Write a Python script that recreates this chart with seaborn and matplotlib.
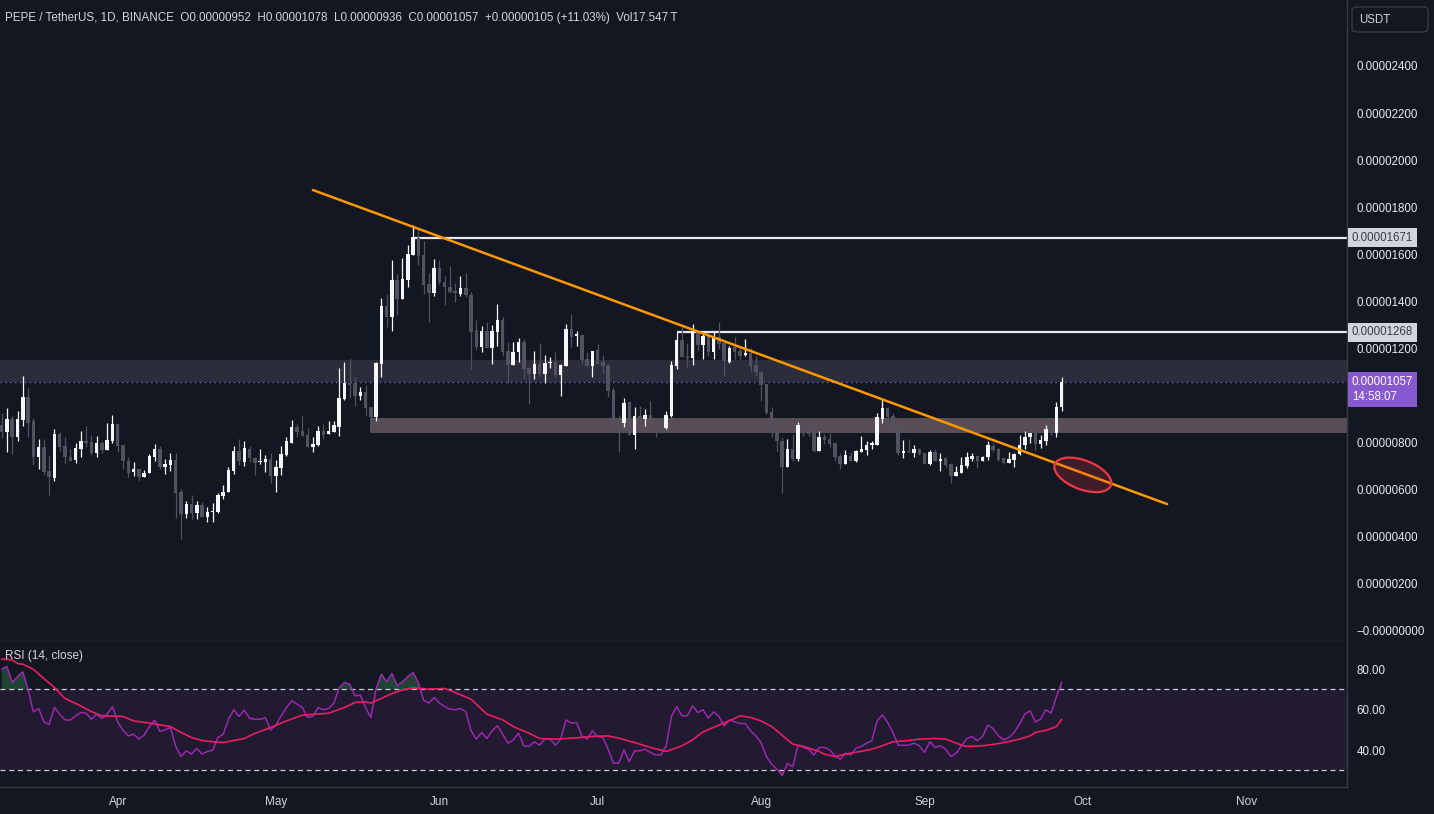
import numpy as np
import pandas as pd
import matplotlib
matplotlib.use("Agg")
import matplotlib.pyplot as plt
import seaborn as sns
from matplotlib.patches import Ellipse, FancyBboxPatch, Rectangle
from matplotlib.ticker import FuncFormatter
from matplotlib.transforms import ScaledTranslation, blended_transform_factory

# --- data: PEPE/USDT daily candles, prices in units of 1e-8 USDT ---
start_date = "2024-03-10"
opens = [875, 847, 901, 822, 897, 993, 890, 737, 780, 680, 649, 837, 786, 738, 727, 773, 807, 802, 758, 800,
         769, 807, 880, 790, 722, 677, 688, 652, 670, 741, 773, 698, 705, 727, 591, 497, 540, 503, 536, 486,
         506, 504, 574, 592, 681, 765, 719, 773, 736, 718, 718, 730, 659, 693, 747, 800, 865, 849, 832, 783,
         790, 849, 835, 846, 868, 985, 1055, 1052, 999, 1013, 953, 910, 1134, 1380, 1335, 1491, 1410, 1491, 1597, 1668,
         1597, 1474, 1437, 1543, 1484, 1462, 1445, 1431, 1455, 1427, 1279, 1208, 1274, 1203, 1271, 1321, 1189, 1130, 1184, 1229,
         1119, 1092, 1134, 1092, 1138, 1144, 1087, 1127, 1283, 1252, 1257, 1154, 1127, 1194, 1144, 1130, 1024, 892, 885, 971,
         833, 913, 900, 917, 889, 868, 861, 913, 1127, 1236, 1170, 1161, 1268, 1215, 1251, 1187, 1248, 1222, 1142, 1208,
         1190, 1174, 1180, 1130, 1102, 1050, 932, 858, 808, 698, 774, 731, 875, 850, 840, 766, 822, 816, 798, 744,
         710, 745, 724, 762, 769, 788, 791, 901, 949, 914, 850, 758, 766, 758, 773, 755, 708, 762, 724, 734,
         710, 660, 673, 701, 730, 744, 720, 738, 786, 773, 734, 715, 727, 751, 790, 822, 843, 795, 809, 858,
         840, 952]
highs = [925, 946, 914, 935, 1084, 1031, 904, 814, 814, 748, 857, 844, 822, 773, 797, 850, 871, 833, 829, 805,
         885, 918, 882, 790, 738, 717, 688, 684, 751, 795, 786, 730, 755, 755, 603, 552, 578, 552, 547, 528,
         543, 588, 620, 696, 786, 816, 807, 785, 740, 773, 747, 754, 726, 785, 825, 896, 879, 917, 861, 822,
         870, 879, 892, 892, 1115, 1141, 1158, 1077, 1038, 1045, 953, 1141, 1413, 1431, 1576, 1516, 1583, 1639, 1724, 1703,
         1656, 1519, 1580, 1576, 1509, 1552, 1476, 1509, 1522, 1440, 1321, 1296, 1311, 1300, 1389, 1332, 1229, 1229, 1246, 1240,
         1123, 1189, 1225, 1172, 1165, 1187, 1134, 1304, 1347, 1274, 1262, 1187, 1189, 1219, 1172, 1134, 1035, 918, 991, 971,
         953, 956, 943, 977, 896, 892, 934, 1147, 1269, 1293, 1225, 1305, 1276, 1275, 1265, 1275, 1312, 1222, 1211, 1248,
         1204, 1241, 1204, 1166, 1106, 1050, 951, 875, 826, 816, 837, 887, 897, 868, 875, 850, 837, 843, 800, 755,
         769, 759, 769, 829, 808, 808, 925, 986, 953, 928, 868, 812, 816, 790, 779, 758, 769, 773, 755, 741,
         713, 701, 738, 762, 755, 744, 744, 807, 797, 776, 737, 762, 755, 833, 850, 843, 851, 833, 875, 878,
         972, 1078]
lows = [819, 762, 751, 809, 871, 822, 703, 687, 663, 578, 639, 766, 708, 724, 715, 741, 783, 748, 737, 758,
        769, 800, 762, 688, 656, 659, 635, 652, 670, 720, 688, 666, 681, 482, 391, 482, 475, 475, 486, 461,
        461, 500, 560, 592, 666, 703, 701, 719, 662, 709, 676, 630, 591, 662, 743, 800, 822, 828, 783, 761,
        785, 815, 835, 844, 829, 981, 991, 957, 981, 914, 889, 893, 1080, 1290, 1275, 1342, 1410, 1462, 1597, 1554,
        1431, 1314, 1424, 1474, 1384, 1437, 1399, 1424, 1417, 1113, 1194, 1187, 1203, 1134, 1212, 1170, 1055, 1130, 1144, 1070,
        964, 1070, 1083, 1055, 1116, 1080, 1000, 1127, 1208, 1212, 1134, 1127, 1080, 1134, 1097, 995, 882, 762, 868, 833,
        773, 889, 871, 879, 825, 842, 858, 910, 1111, 1163, 1123, 1128, 1191, 1156, 1170, 1156, 1198, 1081, 1137, 1156,
        1156, 1170, 1102, 1085, 975, 922, 826, 766, 585, 698, 724, 720, 829, 829, 762, 766, 795, 781, 720, 687,
        710, 724, 716, 762, 748, 772, 791, 885, 868, 844, 748, 734, 755, 738, 748, 708, 705, 720, 681, 696,
        628, 660, 670, 691, 724, 694, 720, 727, 762, 724, 708, 713, 698, 748, 772, 800, 769, 776, 788, 833,
        822, 936]
closes = [847, 901, 822, 901, 993, 885, 737, 780, 677, 656, 837, 783, 737, 724, 776, 807, 800, 758, 797, 769,
          812, 880, 786, 720, 673, 688, 652, 673, 744, 773, 698, 710, 727, 588, 497, 540, 503, 536, 486, 507,
          510, 578, 592, 684, 765, 722, 778, 733, 715, 723, 730, 659, 695, 751, 807, 865, 846, 828, 783, 794,
          849, 832, 849, 875, 988, 1052, 1045, 999, 1013, 948, 910, 1137, 1380, 1335, 1491, 1410, 1495, 1601, 1672, 1594,
          1469, 1437, 1543, 1484, 1459, 1441, 1434, 1455, 1427, 1272, 1208, 1274, 1203, 1274, 1321, 1187, 1130, 1187, 1229, 1113,
          1092, 1134, 1092, 1140, 1144, 1087, 1130, 1283, 1250, 1260, 1151, 1127, 1189, 1134, 1127, 1021, 889, 886, 967, 833,
          913, 899, 917, 885, 864, 862, 917, 1130, 1236, 1165, 1161, 1276, 1215, 1251, 1187, 1248, 1218, 1145, 1204, 1187,
          1170, 1180, 1126, 1102, 1045, 928, 854, 805, 698, 774, 731, 875, 847, 837, 766, 822, 812, 795, 741, 710,
          748, 724, 765, 774, 791, 800, 907, 949, 908, 844, 758, 766, 761, 773, 752, 708, 762, 720, 731, 705,
          659, 677, 705, 737, 744, 720, 738, 790, 769, 727, 715, 730, 751, 790, 823, 843, 795, 812, 858, 840,
          953, 1057]

# RSI(14) per candle and its moving average (sampled along the line)
rsi = [80.0, 81.4, 73.5, 76.3, 78.7, 70.2, 59.0, 60.6, 54.0, 52.7, 61.1, 57.8, 55.0, 54.9, 57.0, 58.6, 58.3, 55.3, 57.8, 55.7,
       57.8, 61.6, 54.0, 49.9, 47.1, 47.9, 45.5, 47.4, 51.7, 54.9, 49.3, 50.1, 51.2, 41.9, 36.9, 39.7, 38.1, 40.9, 38.1, 39.4,
       40.0, 46.3, 47.9, 55.3, 60.0, 56.7, 59.8, 55.8, 55.3, 55.3, 56.0, 50.1, 52.4, 57.0, 61.1, 64.4, 62.8, 61.1, 56.2, 56.7,
       61.1, 60.0, 60.6, 63.3, 71.0, 73.5, 72.6, 66.9, 67.2, 61.1, 56.2, 70.5, 77.6, 73.8, 77.9, 71.8, 73.8, 76.4, 78.4, 73.5,
       64.7, 63.3, 66.0, 63.3, 61.6, 60.3, 60.0, 60.6, 59.0, 49.6, 45.5, 48.8, 45.8, 49.6, 52.1, 47.9, 43.5, 45.1, 48.4, 42.2,
       41.9, 44.2,
       42.5, 45.5, 45.5, 42.5, 45.5, 55.0, 53.4, 53.7, 47.1, 45.5, 49.6, 46.8, 46.3, 40.5, 33.6, 33.6, 40.2, 34.4, 39.7, 39.7,
       40.5, 38.9, 37.7, 37.7, 42.2, 56.7, 61.6, 57.0, 57.0, 61.9, 58.6, 60.0, 55.8, 59.0, 56.7, 52.1, 55.0, 54.0, 53.2, 53.2,
       49.6, 47.1, 43.8, 36.9, 33.1, 30.7, 27.4, 33.5, 31.8, 42.5, 41.4, 40.5, 37.6, 41.4, 41.4, 40.2, 37.2, 35.6, 38.6, 37.7,
       41.0, 41.9, 43.5, 44.7, 54.5, 57.5, 53.7, 48.8, 42.5, 42.5, 42.5, 43.5, 42.2, 38.9, 44.2, 41.4, 42.2, 40.5, 36.9, 38.6,
       42.2, 45.8, 46.8, 44.7, 46.8, 52.4, 50.7, 47.1, 45.1, 46.3, 48.8, 52.9, 57.8, 59.5, 54.0, 55.3, 60.0, 58.3, 66.5, 73.8]
ma_idx = [0, 2, 3, 4, 6, 8, 10, 12, 15, 17, 19, 23, 25, 28, 32, 34, 36, 38, 40, 42, 46, 48, 51, 54, 57, 59, 62, 65,
          67, 69, 70, 72, 74, 76, 78, 81, 84, 86, 89, 92, 95, 97, 100, 102, 105, 109, 112, 115, 117, 120, 123, 126,
          129, 131, 133, 136, 139, 140, 142, 144, 146, 148, 150, 152, 155, 156, 158, 160, 163, 165, 167, 169, 172,
          174, 177, 179, 182, 183, 186, 189, 191, 193, 195, 196, 198, 200, 201]
ma_vals = [85.0, 84.6, 82.8, 82.5, 80.0, 75.4, 71.0, 65.6, 61.9, 59.1, 57.0, 56.7, 54.5, 53.4, 51.7, 48.8, 46.3, 44.8,
           44.2, 43.8, 45.8, 48.3, 51.2, 54.5, 57.3, 57.7, 58.3, 61.1, 63.6, 63.9, 63.3, 65.6, 68.0, 69.8, 70.8, 70.2,
           70.5, 68.5, 65.2, 57.8, 55.0, 51.7, 48.4, 45.8, 45.5, 46.1, 46.8, 47.1, 46.0, 43.8, 41.4, 39.4, 42.2, 45.1,
           49.1, 52.4, 55.7, 57.0, 56.2, 54.5, 51.7, 47.4, 43.0, 41.9, 39.4, 38.1, 36.9, 38.1, 39.5, 40.5, 42.2, 44.2,
           44.8, 45.5, 45.8, 45.5, 42.5, 41.9, 42.2, 43.3, 44.3, 45.5, 47.1, 48.8, 49.8, 51.7, 55.3]

# drawings on the chart
trend_dates = ["2024-05-08", "2024-10-17"]
trend_prices = [1873, 539]
levels = [1671, 1268]
level_starts = ["2024-05-27", "2024-07-16"]
upper_zone = (1058, 1151)
lower_zone = (841, 905)
lower_zone_start = "2024-05-19"
circle_date, circle_price = "2024-10-01", 663
months = ["Apr", "May", "Jun", "Jul", "Aug", "Sep", "Oct", "Nov"]
month_starts = ["2024-04-01", "2024-05-01", "2024-06-01", "2024-07-01",
                "2024-08-01", "2024-09-01", "2024-10-01", "2024-11-01"]
price_ticks = [0, 200, 400, 600, 800, 1200, 1400, 1600, 1800, 2000, 2200, 2400]
last_price, countdown = 1057, "14:58:07"
header = ("PEPE / TetherUS, 1D, BINANCE  O0.00000952  H0.00001078  L0.00000936  "
          "C0.00001057  +0.00000105 (+11.03%)  Vol17.547\u2009T")

# --- style ---
BG = "#131722"
TXT = "#d1d4dc"
SEP = "#2a2e39"
UP = "#f5f6f8"
DOWN = "#50535f"
sns.set_theme(style="dark", rc={"axes.facecolor": BG, "figure.facecolor": BG,
                                "axes.edgecolor": SEP, "text.color": TXT,
                                "xtick.color": TXT, "ytick.color": TXT})
plt.rcParams["font.family"] = ["Liberation Sans", "DejaVu Sans"]

start = pd.Timestamp(start_date)


def pos(d):
    return (pd.Timestamp(d) - start).days


W, H = 1434, 814
fig = plt.figure(figsize=(W / 100, H / 100), dpi=100)


def px_rect(x0, y0, x1, y1):
    return [x0 / W, 1 - y1 / H, (x1 - x0) / W, (y1 - y0) / H]


ax = fig.add_axes(px_rect(0, 0, 1347, 641))
ax_r = fig.add_axes(px_rect(0, 641, 1347, 787), sharex=ax)

o, h, l, c = map(np.array, (opens, highs, lows, closes))
x = np.arange(len(c))
col = np.where(c >= o, UP, DOWN)

# zones and levels (behind candles)
xmax = 255.1
ax.axhspan(*upper_zone, color="#2b2d3b", lw=0, zorder=1)
ax.add_patch(Rectangle((pos(lower_zone_start) - 0.2, lower_zone[0]), xmax,
                       lower_zone[1] - lower_zone[0], color="#584d55", lw=0, zorder=1))
ax.axhline(last_price, color="#6f63d6", lw=1, ls=(0, (1, 2.5)), zorder=2)
for lv, st in zip(levels, level_starts):
    ax.hlines(lv, pos(st), xmax, color="#e6e8ee", lw=1.6, zorder=2)

# candles
ax.vlines(x, l, h, colors=col, lw=0.9, zorder=3)
ax.bar(x, np.maximum(np.abs(c - o), 3), bottom=np.minimum(o, c), width=0.66,
       color=col, lw=0, zorder=4)

# trend line + circle
ax.plot([pos(d) for d in trend_dates], trend_prices, color="#ff9800", lw=1.8, zorder=5)
etr = fig.dpi_scale_trans + ScaledTranslation(pos(circle_date), circle_price, ax.transData)
ax.add_patch(Ellipse((0, 0), 0.60, 0.29, angle=-21, transform=etr,
                     facecolor=(0.95, 0.21, 0.27, 0.2), edgecolor="#f23645", lw=1.6, zorder=6))

ax.set_xlim(-0.32, xmax)
ax.set_ylim(-42.5, 2680)
ax.yaxis.tick_right()
ax.set_yticks(price_ticks)
ax.yaxis.set_major_formatter(FuncFormatter(
    lambda v, p: ("\u2212" if v <= 0 else "") + f"{abs(v) * 1e-8:.8f}"))
ax.tick_params(axis="y", length=0, pad=7, labelsize=8.3, labelcolor="#e8eaef")
ax.tick_params(axis="x", length=0, labelbottom=False)
ax.grid(False)

# price labels on the scale
bt = blended_transform_factory(ax.transAxes, ax.transData)
for lv in levels:
    ax.text(1352 / 1347, lv, f"{lv * 1e-8:.8f}", transform=bt, ha="left", va="center",
            fontsize=8.3, color="#3a3d47", clip_on=False, zorder=10,
            bbox=dict(boxstyle="square,pad=0.32", fc="#d1d4dc", ec="none"))
ax.annotate(f"{last_price * 1e-8:.8f}\n{countdown}", xy=(1352 / 1347, last_price), xycoords=bt,
            xytext=(0, 6), textcoords="offset pixels", ha="left", va="top",
            fontsize=8.3, color="white", linespacing=1.3, annotation_clip=False, zorder=10,
            bbox=dict(boxstyle="square,pad=0.32", fc="#8758cf", ec="none"))

# RSI panel
ax_r.axhspan(30, 70, color="#211a31", lw=0)
for lv in (70, 30):
    ax_r.axhline(lv, color="#c9ccd4", lw=0.9, ls=(0, (4, 3)))
rv = np.array(rsi)
ax_r.fill_between(x, 70, rv, where=rv > 70, interpolate=True, color="#2e7d4f", alpha=0.45, lw=0)
ax_r.fill_between(x, 30, rv, where=rv < 30, interpolate=True, color="#b23045", alpha=0.45, lw=0)
sns.lineplot(x=x, y=rv, ax=ax_r, color="#9c27b0", lw=1.1)
sns.lineplot(x=ma_idx, y=ma_vals, ax=ax_r, color="#e91e63", lw=1.2)
ax_r.set_ylim(21.85, 93.95)
ax_r.yaxis.tick_right()
ax_r.set_yticks([40, 60, 80])
ax_r.yaxis.set_major_formatter(FuncFormatter(lambda v, p: f"{v:.2f}"))
ax_r.tick_params(axis="y", length=0, pad=7, labelsize=8.3, labelcolor="#e8eaef")
ax_r.set_xticks([pos(d) for d in month_starts])
ax_r.set_xticklabels(months)
ax_r.tick_params(axis="x", length=0, pad=6.5, labelsize=8.5, labelcolor=TXT)
ax_r.set_xlabel(""); ax_r.set_ylabel("")
ax_r.grid(False)
ax_r.text(0.004, 0.9, "RSI (14, close)", transform=ax_r.transAxes, ha="left", va="center",
          fontsize=8.5, color=TXT)

for a in (ax, ax_r):
    for s in ("left", "top"):
        a.spines[s].set_visible(False)
    for s in ("right", "bottom"):
        a.spines[s].set_color("#363a45")
        a.spines[s].set_linewidth(1)

# header and currency box
fig.text(5 / W, 1 - 18 / H, header, ha="left", va="center", fontsize=8.4, color=TXT)
fig.add_artist(FancyBboxPatch((1352 / W, 1 - 32 / H), 76 / W, 25 / H,
                              boxstyle="round,pad=0,rounding_size=0.004",
                              transform=fig.transFigure, fc=BG, ec="#363a45", lw=1))
fig.text(1359 / W, 1 - 20 / H, "USDT", ha="left", va="center", fontsize=8.3, color=TXT)

fig.savefig("out.png", dpi=100, facecolor=BG)
